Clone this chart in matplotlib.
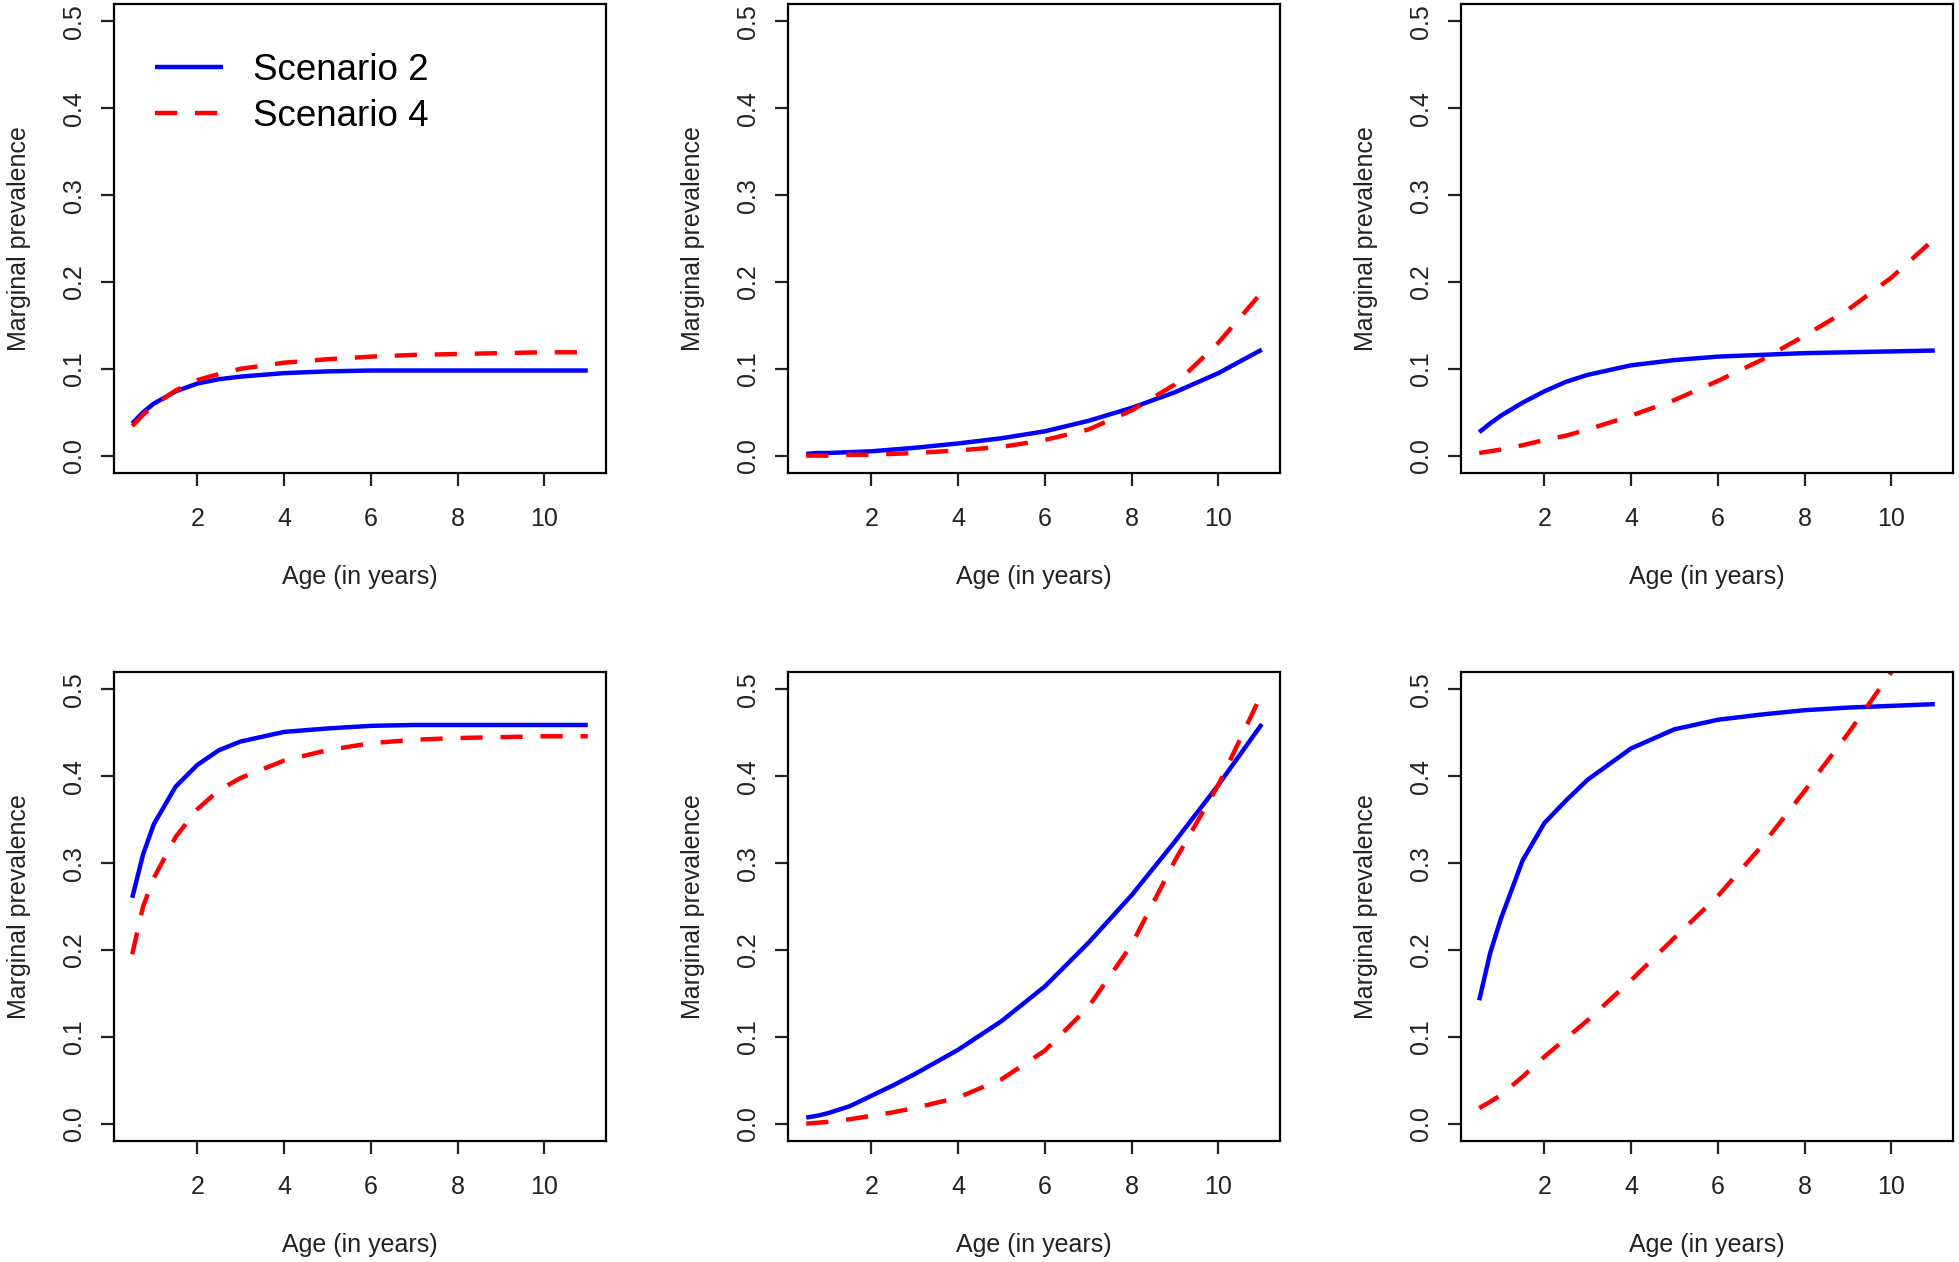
import matplotlib
matplotlib.use("Agg")
import matplotlib.pyplot as plt

plt.rcParams['font.family'] = ['Liberation Sans', 'DejaVu Sans']

AGE = [0.5, 0.75, 1, 1.5, 2, 2.5, 3, 4, 5, 6, 7, 8, 9, 10, 11]

# top row
s2_a = [0.037, 0.050, 0.060, 0.074, 0.083, 0.088, 0.091, 0.095, 0.097, 0.098, 0.098, 0.098, 0.098, 0.098, 0.098]
s4_a = [0.034, 0.047, 0.058, 0.075, 0.087, 0.094, 0.100, 0.107, 0.111, 0.114, 0.116, 0.117, 0.118, 0.119, 0.119]
s2_b = [0.002, 0.003, 0.003, 0.004, 0.005, 0.007, 0.009, 0.014, 0.020, 0.028, 0.040, 0.055, 0.073, 0.095, 0.122]
s4_b = [0.000, 0.000, 0.000, 0.001, 0.001, 0.002, 0.003, 0.006, 0.010, 0.018, 0.030, 0.052, 0.082, 0.130, 0.188]
s2_c = [0.027, 0.037, 0.046, 0.061, 0.074, 0.085, 0.093, 0.104, 0.110, 0.114, 0.116, 0.118, 0.119, 0.120, 0.121]
s4_c = [0.003, 0.005, 0.007, 0.012, 0.018, 0.023, 0.030, 0.046, 0.064, 0.086, 0.110, 0.138, 0.168, 0.205, 0.250]
# bottom row
s2_d = [0.260, 0.310, 0.345, 0.388, 0.413, 0.430, 0.440, 0.451, 0.455, 0.458, 0.459, 0.459, 0.459, 0.459, 0.459]
s4_d = [0.195, 0.250, 0.283, 0.330, 0.362, 0.384, 0.398, 0.418, 0.430, 0.438, 0.442, 0.444, 0.445, 0.446, 0.446]
s2_e = [0.007, 0.009, 0.012, 0.020, 0.032, 0.044, 0.057, 0.085, 0.118, 0.158, 0.208, 0.263, 0.325, 0.390, 0.460]
s4_e = [0.000, 0.001, 0.002, 0.005, 0.009, 0.013, 0.018, 0.030, 0.051, 0.084, 0.134, 0.206, 0.303, 0.390, 0.495]
s2_f = [0.142, 0.196, 0.236, 0.303, 0.346, 0.372, 0.396, 0.432, 0.454, 0.465, 0.471, 0.476, 0.479, 0.481, 0.483]
s4_f = [0.018, 0.025, 0.033, 0.054, 0.077, 0.098, 0.119, 0.165, 0.214, 0.262, 0.319, 0.383, 0.449, 0.520, 0.590]

panels = [(s2_a, s4_a), (s2_b, s4_b), (s2_c, s4_c),
          (s2_d, s4_d), (s2_e, s4_e), (s2_f, s4_f)]

XTICKS = [2, 4, 6, 8, 10]
YTICKS = [0.0, 0.1, 0.2, 0.3, 0.4, 0.5]
YLABELS = ["0.0", "0.1", "0.2", "0.3", "0.4", "0.5"]

W, H = 1959, 1262
fig = plt.figure(figsize=(W / 100, H / 100), dpi=100)

lefts = [114, 788, 1461]
tops = [4, 672]
aw, ah = 492, 469

for i, (blue, red) in enumerate(panels):
    r, c = divmod(i, 3)
    ax = fig.add_axes([lefts[c] / W, 1 - (tops[r] + ah) / H, aw / W, ah / H])
    ax.plot(AGE, blue, color='#0000ff', lw=3.2, solid_capstyle='butt', label='Scenario 2')
    ax.plot(AGE, red, color='#ff0000', lw=3.2, dashes=(5, 4), label='Scenario 4')
    ax.set_xlim(0.08, 11.42)
    ax.set_ylim(-0.02, 0.52)
    ax.set_xticks(XTICKS)
    ax.set_yticks(YTICKS)
    ax.set_yticklabels(YLABELS, rotation=90, va='center')
    for s in ax.spines.values():
        s.set_linewidth(1.6)
    ax.tick_params(axis='both', direction='out', length=9.5, width=1.6,
                   labelsize=18, colors='#222222')
    ax.tick_params(axis='x', pad=15)
    ax.tick_params(axis='y', pad=11)
    ax.set_xlabel('Age (in years)', fontsize=18, color='#222222')
    ax.set_ylabel('Marginal prevalence', fontsize=18, color='#222222')
    ax.xaxis.set_label_coords(0.5, -0.196)
    ax.yaxis.set_label_coords(-0.168, 0.5)
    if i == 0:
        ax.legend(loc='upper left', bbox_to_anchor=(0.008, 0.975), frameon=False,
                  fontsize=26.5, handlelength=1.85, handletextpad=0.82,
                  labelspacing=0.3, borderaxespad=0.6)

fig.savefig('out.png', dpi=100)
